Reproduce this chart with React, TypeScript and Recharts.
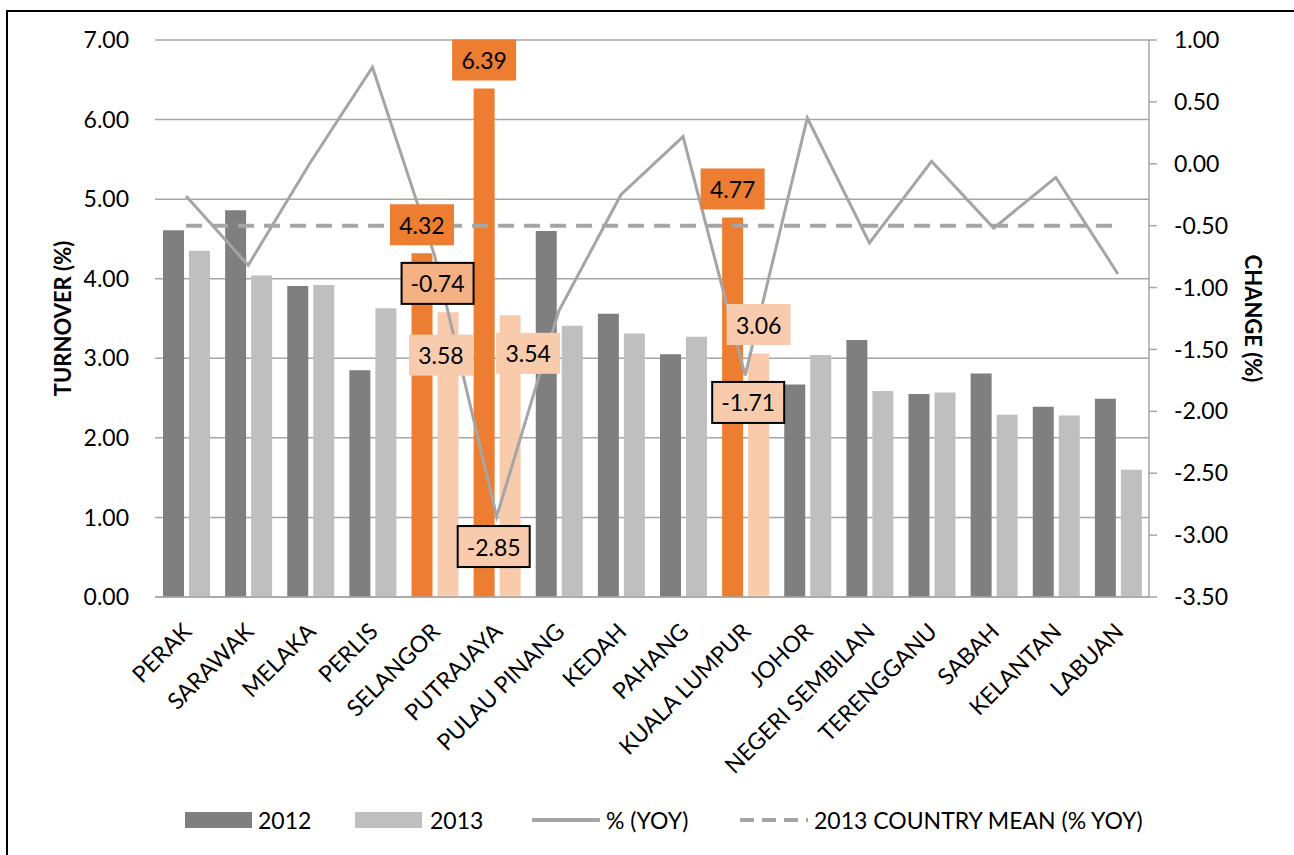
import React from 'react';
import { ComposedChart, Bar, Line, XAxis, YAxis, CartesianGrid, Cell, LabelList, Label } from 'recharts';

const categories = ['PERAK', 'SARAWAK', 'MELAKA', 'PERLIS', 'SELANGOR', 'PUTRAJAYA', 'PULAU PINANG', 'KEDAH', 'PAHANG', 'KUALA LUMPUR', 'JOHOR', 'NEGERI SEMBILAN', 'TERENGGANU', 'SABAH', 'KELANTAN', 'LABUAN'];
const turnover2012 = [4.61, 4.86, 3.91, 2.85, 4.32, 6.39, 4.60, 3.56, 3.05, 4.77, 2.67, 3.23, 2.55, 2.81, 2.39, 2.49];
const turnover2013 = [4.35, 4.04, 3.92, 3.63, 3.58, 3.54, 3.41, 3.31, 3.27, 3.06, 3.04, 2.59, 2.57, 2.29, 2.28, 1.60];
const changeYoY = [-0.26, -0.82, 0.01, 0.78, -0.74, -2.85, -1.19, -0.25, 0.22, -1.71, 0.37, -0.64, 0.02, -0.52, -0.11, -0.89];
const countryMean2013 = [-0.5, -0.5, -0.5, -0.5, -0.5, -0.5, -0.5, -0.5, -0.5, -0.5, -0.5, -0.5, -0.5, -0.5, -0.5, -0.5];
const leftTicks = [0, 1, 2, 3, 4, 5, 6, 7];
const rightTicks = [-3.5, -3, -2.5, -2, -1.5, -1, -0.5, 0, 0.5, 1];
const highlighted = ['SELANGOR', 'PUTRAJAYA', 'KUALA LUMPUR'];
const legendNames = ['2012', '2013', '% (YOY)', '2013 COUNTRY MEAN (% YOY)'];

const data = categories.map((name, i) => ({
  name,
  y2012: turnover2012[i],
  y2013: turnover2013[i],
  yoy: changeYoY[i],
  mean: countryMean2013[i],
}));

// label placement styling (offsets of label box centre relative to anchor)
const off2013: Record<string, [number, number]> = {
  SELANGOR: [-7, 43],
  PUTRAJAYA: [18, 38],
  'KUALA LUMPUR': [0, -29],
};
const offYoY: Record<string, [number, number]> = {
  SELANGOR: [3, 28],
  PUTRAJAYA: [-3, 30],
  'KUALA LUMPUR': [3, 27],
};

const FONT = 'Lato, "Open Sans", sans-serif';
const C2012 = '#7F7F7F';
const C2013 = '#BFBFBF';
const CORANGE = '#ED7D31';
const CPEACH = '#F8CBAD';
const CPEACH2 = '#F4B183';
const CLINE = '#A5A5A5';

const pos = (p: any) => {
  const vb = p.viewBox || {};
  const x = typeof p.x === 'number' ? p.x : vb.x;
  const y = typeof p.y === 'number' ? p.y : vb.y;
  const w = typeof p.width === 'number' ? p.width : vb.width || 0;
  return { x, y, w };
};

const Box = ({ cx, cy, w, h, fill, border, text }: any) => (
  <g>
    <rect x={cx - w / 2} y={cy - h / 2} width={w} height={h} fill={fill} stroke={border ? '#000' : 'none'} strokeWidth={border ? 2 : 0} />
    <text x={cx} y={cy} textAnchor="middle" dominantBaseline="central" fontFamily={FONT} fontSize={23} fill="#000">
      {text}
    </text>
  </g>
);

const Label2012 = (p: any) => {
  const name = categories[p.index];
  if (!highlighted.includes(name)) return null;
  const { x, y, w } = pos(p);
  return <Box cx={x + w / 2} cy={y - 8 - 20.5} w={64} h={41} fill={CORANGE} text={Number(p.value).toFixed(2)} />;
};

const Label2013 = (p: any) => {
  const name = categories[p.index];
  if (!highlighted.includes(name)) return null;
  const { x, y, w } = pos(p);
  const o = off2013[name];
  return <Box cx={x + w / 2 + o[0]} cy={y + o[1]} w={64} h={41} fill={CPEACH} text={Number(p.value).toFixed(2)} />;
};

const LabelYoY = (p: any) => {
  const name = categories[p.index];
  if (!highlighted.includes(name)) return null;
  const { x, y, w } = pos(p);
  const o = offYoY[name];
  return (
    <Box
      cx={x + w / 2 + o[0]}
      cy={y + o[1]}
      w={72}
      h={41}
      fill={name === 'SELANGOR' ? CPEACH2 : CPEACH}
      border
      text={Number(p.value).toFixed(2)}
    />
  );
};

const XTick = (p: any) => {
  const ax = p.x + 7;
  const ay = p.y + 36;
  return (
    <text x={ax} y={ay} transform={`rotate(-45 ${ax} ${ay})`} textAnchor="end" fontFamily={FONT} fontSize={23} fill="#000">
      {p.payload.value}
    </text>
  );
};

const Legend = () => (
  <svg width={1294} height={60} style={{ position: 'absolute', left: 0, top: 790 }}>
    <rect x={185} y={22} width={67} height={16} fill={C2012} />
    <text x={258} y={30} dominantBaseline="central" fontFamily={FONT} fontSize={23} fill="#000">{legendNames[0]}</text>
    <rect x={355} y={22} width={67} height={16} fill={C2013} />
    <text x={430} y={30} dominantBaseline="central" fontFamily={FONT} fontSize={23} fill="#000">{legendNames[1]}</text>
    <line x1={532} y1={30} x2={600} y2={30} stroke={CLINE} strokeWidth={4} />
    <text x={606} y={30} dominantBaseline="central" fontFamily={FONT} fontSize={23} fill="#000">{legendNames[2]}</text>
    <line x1={740} y1={30} x2={808} y2={30} stroke={CLINE} strokeWidth={4} strokeDasharray="14 8" />
    <text x={814} y={30} dominantBaseline="central" fontFamily={FONT} fontSize={23} fill="#000">{legendNames[3]}</text>
  </svg>
);

export default function App() {
  return (
    <div style={{ position: 'absolute', left: 0, top: 0, width: 1294, height: 855, overflow: 'hidden', background: '#fff' }}>
      <div style={{ position: 'absolute', left: 6, top: 10, width: 1400, height: 900, borderLeft: '2px solid #000', borderTop: '2px solid #000' }} />
      <div style={{ position: 'absolute', left: 0, top: 0 }}>
        <ComposedChart
          width={1294}
          height={855}
          data={data}
          margin={{ top: 40, right: 0, bottom: 58, left: 0 }}
          barCategoryGap={8}
          barGap={5}
        >
          <CartesianGrid vertical={false} stroke="#A6A6A6" strokeWidth={1.5} yAxisId="left" />
          <XAxis
            dataKey="name"
            interval={0}
            height={200}
            tickLine={false}
            tickSize={0}
            tickMargin={0}
            axisLine={{ stroke: '#A6A6A6', strokeWidth: 1.5 }}
            tick={<XTick />}
          />
          <YAxis
            yAxisId="left"
            orientation="left"
            width={155}
            domain={[0, 7]}
            ticks={leftTicks}
            axisLine={false}
            tickLine={false}
            tickSize={8}
            tickMargin={18}
            tickFormatter={(v: number) => v.toFixed(2)}
            tick={{ fontFamily: FONT, fontSize: 23, fill: '#000' }}
          >
            <Label
              content={(p: any) => {
                const vb = p.viewBox || { y: 40, height: 557 };
                const cy = vb.y + vb.height / 2;
                return (
                  <text x={62} y={cy} transform={`rotate(-90 62 ${cy})`} textAnchor="middle" dominantBaseline="central" fontFamily={FONT} fontWeight="bold" fontSize={22} fill="#000">
                    TURNOVER (%)
                  </text>
                );
              }}
            />
          </YAxis>
          <YAxis
            yAxisId="right"
            orientation="right"
            width={145}
            domain={[-3.5, 1]}
            ticks={rightTicks}
            axisLine={{ stroke: '#A6A6A6', strokeWidth: 1.5 }}
            tickLine={{ stroke: '#A6A6A6', strokeWidth: 1.5 }}
            tickSize={8}
            tickMargin={17}
            tickFormatter={(v: number) => v.toFixed(2)}
            tick={{ fontFamily: FONT, fontSize: 23, fill: '#000' }}
          >
            <Label
              content={(p: any) => {
                const vb = p.viewBox || { y: 40, height: 557 };
                const cy = vb.y + vb.height / 2;
                return (
                  <text x={1253} y={cy} transform={`rotate(90 1253 ${cy})`} textAnchor="middle" dominantBaseline="central" fontFamily={FONT} fontWeight="bold" fontSize={22} fill="#000">
                    CHANGE (%)
                  </text>
                );
              }}
            />
          </YAxis>
          <Bar yAxisId="left" dataKey="y2012" name="2012" fill={C2012} isAnimationActive={false}>
            {data.map((d) => (
              <Cell key={d.name} fill={highlighted.includes(d.name) ? CORANGE : C2012} />
            ))}
            <LabelList dataKey="y2012" content={Label2012} />
          </Bar>
          <Bar yAxisId="left" dataKey="y2013" name="2013" fill={C2013} isAnimationActive={false}>
            {data.map((d) => (
              <Cell key={d.name} fill={highlighted.includes(d.name) ? CPEACH : C2013} />
            ))}
            <LabelList dataKey="y2013" content={Label2013} />
          </Bar>
          <Line yAxisId="right" dataKey="mean" name="2013 COUNTRY MEAN (% YOY)" stroke={CLINE} strokeWidth={4} strokeDasharray="16 10" dot={false} activeDot={false} isAnimationActive={false} />
          <Line yAxisId="right" dataKey="yoy" name="% (YOY)" stroke={CLINE} strokeWidth={3} dot={false} activeDot={false} isAnimationActive={false}>
            <LabelList dataKey="yoy" content={LabelYoY} />
          </Line>
        </ComposedChart>
      </div>
      <Legend />
    </div>
  );
}
